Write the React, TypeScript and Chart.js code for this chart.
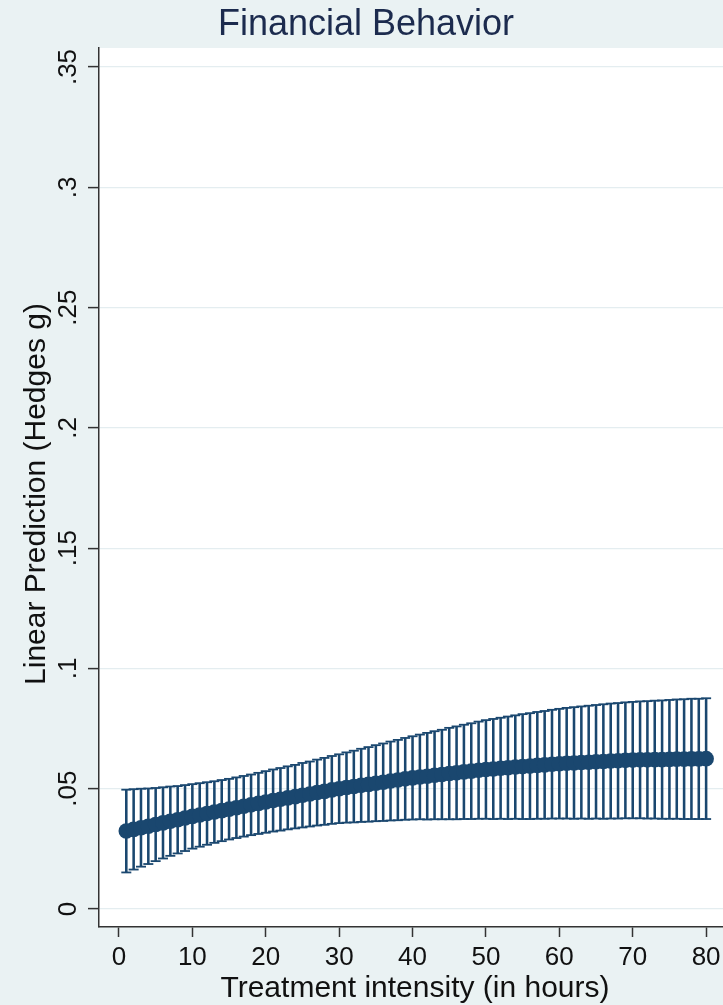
import React, { useEffect, useRef } from "react";
import { Chart, registerables } from "chart.js";

Chart.register(...registerables);

const titleText = "Financial Behavior";
const xAxisTitle = "Treatment intensity (in hours)";
const yAxisTitle = "Linear Prediction (Hedges g)";

const hours = [
  1, 2, 3, 4, 5, 6, 7, 8, 9, 10,
  11, 12, 13, 14, 15, 16, 17, 18, 19, 20,
  21, 22, 23, 24, 25, 26, 27, 28, 29, 30,
  31, 32, 33, 34, 35, 36, 37, 38, 39, 40,
  41, 42, 43, 44, 45, 46, 47, 48, 49, 50,
  51, 52, 53, 54, 55, 56, 57, 58, 59, 60,
  61, 62, 63, 64, 65, 66, 67, 68, 69, 70,
  71, 72, 73, 74, 75, 76, 77, 78, 79, 80,
];

const prediction = [
  0.0324, 0.0331, 0.0338, 0.0344, 0.0351, 0.0358, 0.0365, 0.0371, 0.0378, 0.0385,
  0.0391, 0.0397, 0.0403, 0.0409, 0.0415, 0.0421, 0.0427, 0.0433, 0.0439, 0.0445,
  0.0451, 0.0456, 0.0462, 0.0467, 0.0473, 0.0478, 0.0484, 0.0489, 0.0495, 0.05,
  0.0505, 0.0509, 0.0514, 0.0518, 0.0523, 0.0527, 0.0532, 0.0536, 0.0541, 0.0545,
  0.0549, 0.0552, 0.0556, 0.0559, 0.0563, 0.0566, 0.057, 0.0573, 0.0577, 0.058,
  0.0582, 0.0585, 0.0587, 0.059, 0.0592, 0.0594, 0.0597, 0.0599, 0.0602, 0.0604,
  0.0606, 0.0607, 0.0609, 0.061, 0.0612, 0.0613, 0.0615, 0.0616, 0.0618, 0.0619,
  0.062, 0.062, 0.0621, 0.0621, 0.0622, 0.0623, 0.0623, 0.0624, 0.0624, 0.0625,
];

const upperCI = [
  0.0496, 0.0498, 0.05, 0.0501, 0.0503, 0.0506, 0.0509, 0.0511, 0.0515, 0.0519,
  0.0523, 0.0527, 0.0531, 0.0536, 0.0541, 0.0547, 0.0553, 0.0559, 0.0566, 0.0573,
  0.058, 0.0586, 0.0593, 0.0599, 0.0607, 0.0613, 0.0621, 0.0628, 0.0636, 0.0643,
  0.0651, 0.0658, 0.0666, 0.0673, 0.0681, 0.0688, 0.0696, 0.0703, 0.0711, 0.0718,
  0.0725, 0.0732, 0.0739, 0.0745, 0.0753, 0.0759, 0.0766, 0.0772, 0.0779, 0.0785,
  0.079, 0.0795, 0.08, 0.0805, 0.081, 0.0814, 0.0819, 0.0823, 0.0828, 0.0832,
  0.0836, 0.0839, 0.0842, 0.0845, 0.0848, 0.0851, 0.0854, 0.0856, 0.0859, 0.0861,
  0.0863, 0.0864, 0.0866, 0.0867, 0.0869, 0.0871, 0.0872, 0.0874, 0.0874, 0.0876,
];

const lowerCI = [
  0.0152, 0.0164, 0.0176, 0.0187, 0.0199, 0.021, 0.0221, 0.0231, 0.0241, 0.0251,
  0.0259, 0.0267, 0.0275, 0.0282, 0.0289, 0.0295, 0.0301, 0.0307, 0.0312, 0.0317,
  0.0322, 0.0326, 0.0331, 0.0335, 0.0339, 0.0343, 0.0347, 0.035, 0.0354, 0.0357,
  0.0359, 0.036, 0.0362, 0.0363, 0.0365, 0.0366, 0.0368, 0.0369, 0.0371, 0.0372,
  0.0373, 0.0372, 0.0373, 0.0373, 0.0373, 0.0373, 0.0374, 0.0374, 0.0375, 0.0375,
  0.0374, 0.0375, 0.0374, 0.0375, 0.0374, 0.0374, 0.0375, 0.0375, 0.0376, 0.0376,
  0.0376, 0.0375, 0.0376, 0.0375, 0.0376, 0.0375, 0.0376, 0.0376, 0.0377, 0.0377,
  0.0377, 0.0376, 0.0376, 0.0375, 0.0375, 0.0375, 0.0374, 0.0374, 0.0374, 0.0374,
];

const xTickValues = [0, 10, 20, 30, 40, 50, 60, 70, 80];
const yTickValues = [0, 0.05, 0.1, 0.15, 0.2, 0.25, 0.3, 0.35];
const yTickLabels = ["0", ".05", ".1", ".15", ".2", ".25", ".3", ".35"];

const NAVY = "#1a476f";
const OUTER_BG = "#eaf2f3";
const FONT = "'Liberation Sans', Arial, Helvetica, sans-serif";

const statTextPlugin = {
  id: "statText",
  beforeDraw(chart: any) {
    const { ctx, chartArea } = chart;
    ctx.save();
    ctx.fillStyle = OUTER_BG;
    ctx.fillRect(0, 0, chart.width, chart.height);
    ctx.fillStyle = "#ffffff";
    ctx.fillRect(chartArea.left, chartArea.top, chartArea.right - chartArea.left, chartArea.bottom - chartArea.top);
    ctx.restore();
  },
  afterDraw(chart: any) {
    const { ctx } = chart;
    const yScale = chart.scales.y;
    ctx.save();
    ctx.fillStyle = "#1c2b4e";
    ctx.font = `36px ${FONT}`;
    ctx.textAlign = "center";
    ctx.textBaseline = "alphabetic";
    ctx.fillText(titleText, 366, 35);
    ctx.fillStyle = "#111111";
    ctx.font = `30px ${FONT}`;
    ctx.fillText(xAxisTitle, 415, 997);
    ctx.font = `26px ${FONT}`;
    yTickValues.forEach((v, i) => {
      const py = yScale.getPixelForValue(v);
      ctx.save();
      ctx.translate(76, py);
      ctx.rotate(-Math.PI / 2);
      ctx.fillText(yTickLabels[i], 0, 0);
      ctx.restore();
    });
    ctx.font = `30px ${FONT}`;
    ctx.save();
    ctx.translate(45, 494);
    ctx.rotate(-Math.PI / 2);
    ctx.fillText(yAxisTitle, 0, 0);
    ctx.restore();
    ctx.restore();
  },
};

export default function App() {
  const canvasRef = useRef<HTMLCanvasElement | null>(null);

  useEffect(() => {
    if (!canvasRef.current) return;
    const chart = new Chart(canvasRef.current, {
      type: "scatter",
      data: {
        datasets: [
          {
            type: "scatter",
            label: "Prediction",
            data: hours.map((x, i) => ({ x, y: prediction[i] })),
            pointRadius: 7.8,
            pointHoverRadius: 7.8,
            backgroundColor: NAVY,
            borderWidth: 0,
            showLine: false,
          } as any,
          {
            type: "scatter",
            label: "Upper cap",
            data: hours.map((x, i) => ({ x, y: upperCI[i] })),
            pointStyle: "line",
            pointRadius: 5,
            borderColor: NAVY,
            borderWidth: 1.8,
            showLine: false,
          } as any,
          {
            type: "scatter",
            label: "Lower cap",
            data: hours.map((x, i) => ({ x, y: lowerCI[i] })),
            pointStyle: "line",
            pointRadius: 5,
            borderColor: NAVY,
            borderWidth: 1.8,
            showLine: false,
          } as any,
          {
            type: "bar",
            label: "CI",
            data: hours.map((x, i) => ({ x, y: [lowerCI[i], upperCI[i]] })),
            backgroundColor: NAVY,
            borderWidth: 0,
            barThickness: 1.9,
          } as any,
        ],
      },
      options: {
        animation: false,
        responsive: false,
        maintainAspectRatio: false,
        layout: { autoPadding: false, padding: { top: 48, left: 0, right: 0, bottom: 0 } },
        plugins: {
          legend: { display: false },
          title: { display: false },
          tooltip: { enabled: false },
        },
        scales: {
          x: {
            type: "linear",
            offset: false,
            min: -2.72,
            max: 82.3,
            afterBuildTicks: (scale: any) => {
              scale.ticks = xTickValues.map((v) => ({ value: v }));
            },
            afterFit: (scale: any) => {
              scale.height = 78;
              scale.paddingLeft = 0;
              scale.paddingRight = 0;
            },
            grid: {
              offset: false,
              drawOnChartArea: false,
              drawTicks: true,
              tickLength: 10,
              tickColor: "#333333",
              tickWidth: 1.5,
            },
            border: { display: true, color: "#333333", width: 1.5 },
            ticks: {
              color: "#111111",
              font: { family: FONT, size: 26 },
              padding: 5,
              maxRotation: 0,
              minRotation: 0,
              autoSkip: false,
            },
          },
          y: {
            type: "linear",
            min: -0.00748,
            max: 0.3579,
            afterBuildTicks: (scale: any) => {
              scale.ticks = yTickValues.map((v) => ({ value: v }));
            },
            afterFit: (scale: any) => {
              scale.width = 99;
              scale.paddingTop = 0;
              scale.paddingBottom = 0;
            },
            grid: {
              color: "#e4edf0",
              lineWidth: 1.2,
              drawTicks: true,
              tickLength: 11,
              tickColor: "#333333",
              tickWidth: 1.5,
            },
            border: { display: true, color: "#333333", width: 1.5 },
            ticks: { display: false },
          },
        },
      } as any,
      plugins: [statTextPlugin],
    });
    return () => chart.destroy();
  }, []);

  return (
    <div style={{ position: "absolute", left: 0, top: 0, width: 723, height: 1005, background: OUTER_BG }}>
      <canvas ref={canvasRef} width={723} height={1005} style={{ width: 723, height: 1005, display: "block" }} />
    </div>
  );
}
